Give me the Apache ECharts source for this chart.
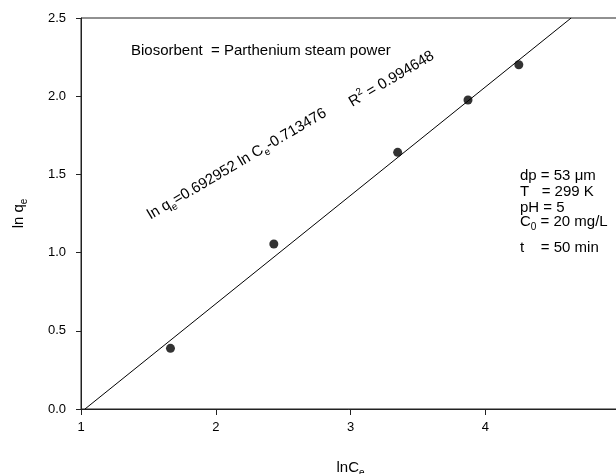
<!DOCTYPE html>
<html>
<head>
<meta charset="utf-8">
<script src="https://cdn.jsdelivr.net/npm/echarts@6/dist/echarts.min.js"></script>
<style>
  html, body { margin: 0; padding: 0; background: #fff; }
  #main { width: 616px; height: 474px; }
</style>
</head>
<body>
<div id="main"></div>
<script>
// measured points (ln Ce, ln qe)
var lnCe = [1.664, 2.431, 3.35, 3.872, 4.249];
var lnQe = [0.388, 1.055, 1.641, 1.976, 2.201];
// regression shown on the plot
var fitSlope = 0.692952;
var fitIntercept = -0.713476;
var rSquared = '0.994648';
var conditions = ['dp = 53 \u03bcm', 'T   = 299 K', 'pH = 5', '{m|C}{s|0}{m| = 20 mg/L}', 't    = 50 min'];

var yMin = 0, yMax = 2.5;
var fitLine = [
    [(yMin - fitIntercept) / fitSlope, yMin],
    [(yMax - fitIntercept) / fitSlope, yMax]
];
var points = lnCe.map(function (x, i) { return [x, lnQe[i]]; });

var font = '"Liberation Sans", Arial, sans-serif';
var subRich = {
    m: { fontSize: 15, fontFamily: font, color: '#000', lineHeight: 18, verticalAlign: 'top' },
    s: { fontSize: 10, fontFamily: font, color: '#000', lineHeight: 10, verticalAlign: 'bottom' }
};
var supRich = {
    m: { fontSize: 15, fontFamily: font, color: '#000', lineHeight: 18, verticalAlign: 'bottom' },
    p: { fontSize: 10, fontFamily: font, color: '#000', lineHeight: 10, verticalAlign: 'top' }
};
var angle = 30.5 * Math.PI / 180;

var myChart = echarts.init(document.getElementById('main'));
var option = {
    backgroundColor: '#fff',
    animation: false,
    grid: {
        left: 81, top: 18, width: 539, height: 391,
        outerBoundsMode: 'none', containLabel: false,
        show: true, borderColor: '#222', borderWidth: 1
    },
    xAxis: {
        type: 'value', min: 1, max: 5, interval: 1,
        name: '{m|lnC}{s|e}', nameLocation: 'middle', nameGap: 51,
        nameTextStyle: { rich: subRich },
        axisLine: { show: true, lineStyle: { color: '#222', width: 1 } },
        axisTick: { show: true, inside: false, length: 6, lineStyle: { color: '#222' } },
        axisLabel: {
            margin: 12, color: '#000', fontSize: 13, fontFamily: font,
            formatter: function (v) { return v >= 5 ? '' : String(v); }
        },
        splitLine: { show: false }
    },
    yAxis: {
        type: 'value', min: yMin, max: yMax, interval: 0.5,
        name: '{m|ln q}{s|e}', nameLocation: 'middle', nameGap: 52, nameRotate: 90,
        nameTextStyle: { rich: subRich },
        axisLine: { show: true, lineStyle: { color: '#222', width: 1 } },
        axisTick: { show: true, inside: false, length: 5, lineStyle: { color: '#222' } },
        axisLabel: {
            margin: 15, color: '#000', fontSize: 13, fontFamily: font,
            formatter: function (v) { return v.toFixed(1); }
        },
        splitLine: { show: false }
    },
    series: [
        {
            type: 'line', data: fitLine, symbol: 'none', silent: true,
            lineStyle: { color: '#000', width: 1 }, z: 2
        },
        {
            type: 'scatter', data: points, symbol: 'circle', symbolSize: 9,
            itemStyle: { color: '#000' }, z: 3
        }
    ],
    graphic: [
        {
            type: 'text', left: 131, top: 43,
            style: { text: 'Biosorbent  = Parthenium steam power', fontSize: 15, fontFamily: font, fill: '#000' }
        },
        {
            type: 'text', x: 154, y: 225, rotation: angle,
            style: {
                text: '{m|ln q}{s|e}{m|=0.692952 ln C}{s|e}{m|-0.713476}',
                rich: subRich, align: 'left', verticalAlign: 'bottom'
            }
        },
        {
            type: 'text', x: 354, y: 110, rotation: angle,
            style: {
                text: '{m|R}{p|2}{m| = ' + rSquared + '}',
                rich: supRich, align: 'left', verticalAlign: 'bottom'
            }
        },
        {
            type: 'text', left: 520, top: 168,
            style: {
                text: conditions.slice(0, 3).join('\n'),
                fontSize: 15, fontFamily: font, fill: '#000', lineHeight: 16
            }
        },
        {
            type: 'text', left: 520, top: 214,
            style: { text: conditions[3], rich: subRich }
        },
        {
            type: 'text', left: 520, top: 240,
            style: { text: conditions[4], fontSize: 15, fontFamily: font, fill: '#000' }
        }
    ]
};
myChart.setOption(option);
</script>
</body>
</html>
